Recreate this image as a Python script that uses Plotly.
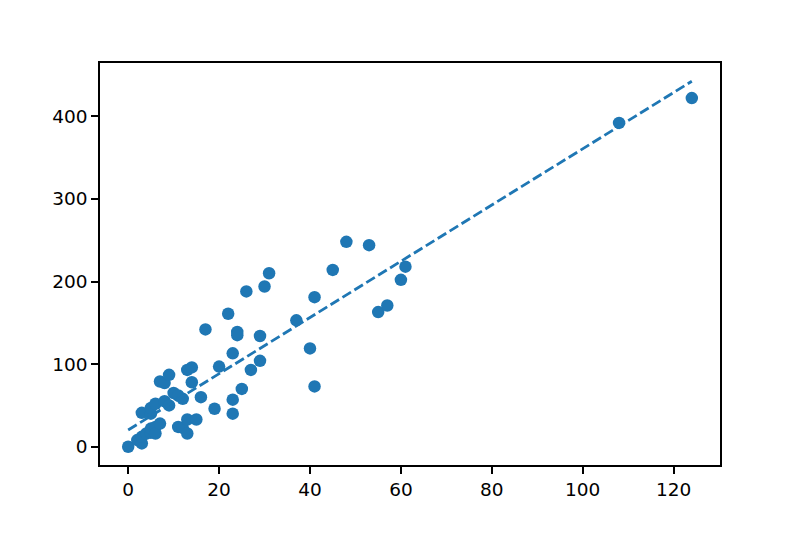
import numpy as np
import plotly.graph_objects as go

# scatter data
x_vals = [0, 2, 3, 3, 4, 5, 5, 6, 6, 7, 3, 5, 5, 6, 8, 9, 10, 11, 12, 7,
          8, 9, 13, 14, 14, 16, 11, 12, 13, 15, 13, 17, 19, 20, 22, 23, 23, 23, 24, 24,
          25, 26, 27, 29, 29, 30, 31, 37, 40, 41, 41, 45, 48, 53, 55, 57, 60, 61, 108, 124]
y_vals = [0, 8, 4, 12, 16, 17, 22, 24, 16, 28, 41, 40, 47, 52, 55, 50, 65, 62, 58, 79,
          77, 87, 93, 96, 78, 60, 24, 23, 33, 33, 16, 142, 46, 97, 161, 113, 57, 40, 139, 135,
          70, 188, 93, 134, 104, 194, 210, 153, 119, 181, 73, 214, 248, 244, 163, 171, 202, 218, 392, 422]

x_tick_vals = [0, 20, 40, 60, 80, 100, 120]
y_tick_vals = [0, 100, 200, 300, 400]

x = np.array(x_vals, dtype=float)
y = np.array(y_vals, dtype=float)

# least squares fit
slope, intercept = np.polyfit(x, y, 1)
line_x = np.array([x.min(), x.max()])
line_y = slope * line_x + intercept

blue = '#1f77b4'

fig = go.Figure()
fig.add_trace(go.Scatter(x=x, y=y, mode='markers',
                         marker=dict(color=blue, size=12.5, line=dict(width=0))))
fig.add_trace(go.Scatter(x=line_x, y=line_y, mode='lines',
                         line=dict(color=blue, width=2.8, dash='10px,4px')))

axis_style = dict(showgrid=False, zeroline=False, showline=True, mirror=True,
                  linecolor='black', linewidth=1.5, ticks='outside', ticklen=7,
                  tickwidth=1.5, tickcolor='black',
                  tickfont=dict(family='DejaVu Sans', size=18.5, color='black'))

# matplotlib style 5% margins
x_lo, x_hi = min(x.min(), line_x.min()), max(x.max(), line_x.max())
y_lo, y_hi = min(y.min(), line_y.min()), max(y.max(), line_y.max())
xm = 0.05 * (x_hi - x_lo)
ym = 0.05 * (y_hi - y_lo)

fig.update_xaxes(range=[x_lo - xm, x_hi + xm], tickvals=x_tick_vals, **axis_style)
fig.update_yaxes(range=[y_lo - ym, y_hi + ym], tickvals=y_tick_vals, **axis_style)

# page body adds an 8px offset, so margins are shifted to compensate
fig.update_layout(width=800, height=533, showlegend=False,
                  plot_bgcolor='white', paper_bgcolor='white',
                  margin=dict(l=92, r=88, t=55, b=76))

fig.write_html("out.html")
